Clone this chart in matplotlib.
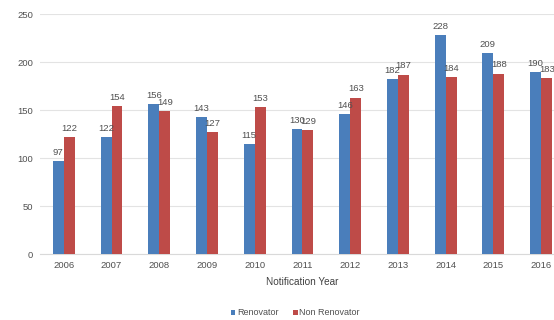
import numpy as np
import matplotlib.pyplot as plt

plt.rcParams['font.family'] = ['Liberation Sans', 'DejaVu Sans']

# Data
years = ['2006', '2007', '2008', '2009', '2010', '2011', '2012', '2013', '2014', '2015', '2016']
renovator = [97, 122, 156, 143, 115, 130, 146, 182, 228, 209, 190]
non_renovator = [122, 154, 149, 127, 153, 129, 163, 187, 184, 188, 183]

blue = '#4a7ebb'
red = '#be4b48'
txt = '#505050'

fig = plt.figure(figsize=(5.54, 3.2), dpi=100)
ax = fig.add_axes([0.072, 0.206, 0.948, 0.75])

x = np.arange(len(years))
w = 0.23
b1 = ax.bar(x - w / 2, renovator, w, color=blue, label='Renovator', zorder=3)
b2 = ax.bar(x + w / 2, non_renovator, w, color=red, label='Non Renovator', zorder=3)

# value labels
for bars in (b1, b2):
    for rect in bars:
        h = rect.get_height()
        ax.annotate(f'{h:.0f}', (rect.get_x() + rect.get_width() / 2, h),
                    xytext=(0, 3), textcoords='offset points',
                    ha='center', va='bottom', fontsize=6.8, color=txt, zorder=4)

ax.set_xlim(-0.5, len(years) - 0.5)
ax.set_ylim(0, 250)
ax.set_yticks(range(0, 251, 50))
ax.set_xticks(x)
ax.set_xticklabels(years)
ax.tick_params(axis='both', length=0, labelsize=6.8, colors=txt)
ax.tick_params(axis='x', pad=5)
ax.tick_params(axis='y', pad=5)
ax.grid(axis='y', color='#e3e3e3', linewidth=0.8, zorder=0)
for s in ['top', 'right', 'left']:
    ax.spines[s].set_visible(False)
ax.spines['bottom'].set_color('#d9d9d9')

ax.set_xlabel('Notification Year', fontsize=7.2, color='#404040', labelpad=5)

fig.legend(loc='center', bbox_to_anchor=(0.533, 0.022), ncol=2, frameon=False,
           fontsize=6.5, handlelength=0.5, handleheight=0.5, handletextpad=0.2,
           columnspacing=1.6, labelcolor=txt)

fig.savefig('out.png', dpi=100)
